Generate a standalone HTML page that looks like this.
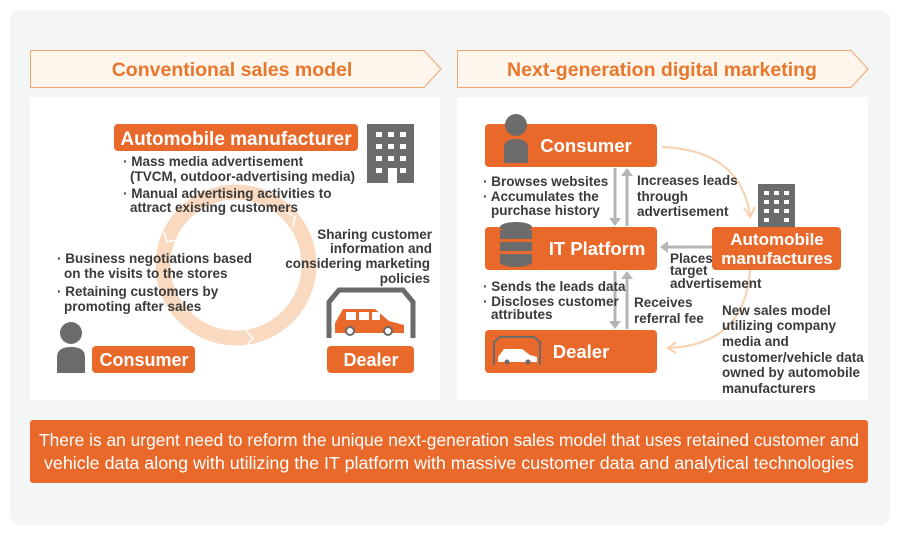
<!DOCTYPE html>
<html><head><meta charset="utf-8"><style>
body{margin:0;background:#fff;}
svg{display:block;font-family:"Liberation Sans",sans-serif;}
.t{font-size:13.5px;fill:#3a3a3a;font-weight:bold;}
.w{fill:#fff;font-weight:bold;}
</style></head><body>
<svg width="900" height="540" viewBox="0 0 900 540">
<rect x="10" y="10" width="880" height="515" rx="10" fill="#f4f5f5"/>
<path d="M30.5 50.5H424L441 69 424 87.5H30.5Z" fill="#fef6ec" stroke="#f2a46e"/>
<text x="232" y="76" text-anchor="middle" font-size="19.5" font-weight="bold" fill="#e8772e">Conventional sales model</text>
<path d="M457.5 50.5H851L868 69 851 87.5H457.5Z" fill="#fef6ec" stroke="#f2a46e"/>
<text x="662" y="76" text-anchor="middle" font-size="19.5" font-weight="bold" fill="#e8772e">Next-generation digital marketing</text>
<rect x="30" y="97" width="410" height="303" fill="#fff"/>
<rect x="457" y="97" width="411" height="303" fill="#fff"/>
<!-- LEFT -->
<circle cx="236" cy="265" r="73" fill="none" stroke="#f9d9bf" stroke-width="15"/>
<path d="M286 212l9 5-2 10" fill="none" stroke="#fff" stroke-width="1.5"/>
<path d="M245 330l8 8-7 8" fill="none" stroke="#fff" stroke-width="1.5"/>
<path d="M164 232l3 10 9-2" fill="none" stroke="#fff" stroke-width="1.5"/>
<rect x="114" y="124" width="244" height="27" rx="4" fill="#e8692a"/>
<text x="236" y="145" text-anchor="middle" class="w" font-size="19">Automobile manufacturer</text>
<rect x="367" y="124" width="47" height="59" fill="#6b6b6b"/>
<g fill="#fff"><rect x="376" y="132" width="6" height="5"/><rect x="388" y="132" width="6" height="5"/><rect x="400" y="132" width="6" height="5"/><rect x="376" y="144" width="6" height="5"/><rect x="388" y="144" width="6" height="5"/><rect x="400" y="144" width="6" height="5"/><rect x="376" y="156" width="6" height="5"/><rect x="388" y="156" width="6" height="5"/><rect x="400" y="156" width="6" height="5"/><rect x="376" y="168" width="6" height="5"/><rect x="388" y="168" width="9" height="15"/><rect x="400" y="168" width="6" height="5"/></g>
<g class="t"><text x="123" y="166">· Mass media advertisement</text><text x="130" y="181">(TVCM, outdoor-advertising media)</text>
<text x="123" y="198">· Manual advertising activities to</text><text x="130" y="212">attract existing customers</text>
<text x="57" y="263">· Business negotiations based</text><text x="64" y="278">on the visits to the stores</text>
<text x="57" y="296">· Retaining customers by</text><text x="64" y="311">promoting after sales</text>
<text x="432" y="239" text-anchor="end">Sharing customer</text><text x="432" y="253" text-anchor="end">information and</text><text x="430" y="268" text-anchor="end">considering marketing</text><text x="430" y="283" text-anchor="end">policies</text></g>
<circle cx="71" cy="333" r="11" fill="#6b6b6b"/><path d="M57 373V357q0-10 14-10q14 0 14 10V373Z" fill="#6b6b6b"/>
<rect x="92" y="346" width="103" height="27" rx="4" fill="#e8692a"/><text x="144" y="366" text-anchor="middle" class="w" font-size="18">Consumer</text>
<path d="M329 338V302l10-12h64l10 12v36" fill="none" stroke="#6b6b6b" stroke-width="5"/>
<path d="M335 333v-10l8-14h32l14 12 15 4v8Z" fill="#e8692a"/>
<g fill="#fff"><rect x="346" y="312" width="10" height="8"/><rect x="359" y="312" width="10" height="8"/><rect x="372" y="312" width="8" height="8"/></g>
<circle cx="350" cy="331" r="4" fill="#fff" stroke="#6b6b6b" stroke-width="2"/><circle cx="388" cy="331" r="4" fill="#fff" stroke="#6b6b6b" stroke-width="2"/>
<rect x="327" y="346" width="87" height="27" rx="4" fill="#e8692a"/><text x="371" y="366" text-anchor="middle" class="w" font-size="18">Dealer</text>
<!-- RIGHT -->
<path d="M662 147Q740 150 750 215" fill="none" stroke="#f9d0ae" stroke-width="2"/><path d="M744 208l6 9 5-10" fill="none" stroke="#f9d0ae" stroke-width="2"/>
<path d="M750 270Q745 345 668 348" fill="none" stroke="#f9d0ae" stroke-width="2"/><path d="M676 342l-8 6 8 5" fill="none" stroke="#f9d0ae" stroke-width="2"/>
<g stroke="#b5b5b5" stroke-width="3" fill="none"><path d="M615 168V220"/><path d="M627 226V174"/><path d="M615 271V323"/><path d="M627 329V277"/><path d="M712 247H665"/></g>
<g fill="#b5b5b5"><path d="M609 218h12l-6 8z"/><path d="M621 176h12l-6-8z"/><path d="M609 321h12l-6 8z"/><path d="M621 279h12l-6-8z"/><path d="M668 241v12l-8-6z"/></g>
<rect x="485" y="124" width="172" height="43" rx="4" fill="#e8692a"/><text x="586" y="152" text-anchor="middle" class="w" font-size="18.5">Consumer</text>
<circle cx="516" cy="125" r="11" fill="#6b6b6b"/><path d="M504 163V148q0-9 12-9q12 0 12 9V163Z" fill="#6b6b6b"/>
<rect x="485" y="227" width="172" height="43" rx="4" fill="#e8692a"/><text x="597" y="255" text-anchor="middle" class="w" font-size="18.5">IT Platform</text>
<g fill="#6b6b6b"><ellipse cx="516" cy="227" rx="16" ry="5"/><rect x="500" y="230" width="32" height="9"/><rect x="500" y="242" width="32" height="9"/><rect x="500" y="254" width="32" height="8"/><ellipse cx="516" cy="262" rx="16" ry="5"/></g>
<rect x="485" y="330" width="172" height="43" rx="4" fill="#e8692a"/><text x="581" y="358" text-anchor="middle" class="w" font-size="18.5">Dealer</text>
<path d="M494 365V342l6-5h34l6 5v23" fill="none" stroke="#6b6b6b" stroke-width="2"/>
<path d="M498 362v-5l6-8h18l8 6 7 2v5Z" fill="#fff"/><circle cx="507" cy="362" r="2.5" fill="#6b6b6b"/><circle cx="528" cy="362" r="2.5" fill="#6b6b6b"/>
<rect x="712" y="227" width="129" height="43" rx="4" fill="#e8692a"/>
<text x="777" y="245" text-anchor="middle" class="w" font-size="17">Automobile</text><text x="777" y="264" text-anchor="middle" class="w" font-size="17">manufactures</text>
<rect x="758" y="184" width="37" height="43" fill="#6b6b6b"/>
<g fill="#fff"><rect x="764" y="191" width="5" height="4"/><rect x="774" y="191" width="5" height="4"/><rect x="784" y="191" width="5" height="4"/><rect x="764" y="200" width="5" height="4"/><rect x="774" y="200" width="5" height="4"/><rect x="784" y="200" width="5" height="4"/><rect x="764" y="209" width="5" height="4"/><rect x="774" y="209" width="5" height="4"/><rect x="784" y="209" width="5" height="4"/><rect x="764" y="218" width="5" height="4"/><rect x="784" y="218" width="5" height="4"/></g>
<g class="t"><text x="483" y="186">· Browses websites</text><text x="483" y="201">· Accumulates the</text><text x="491" y="215">purchase history</text>
<text x="637" y="185">Increases leads</text><text x="637" y="201">through</text><text x="637" y="216">advertisement</text>
<text x="670" y="263">Places</text><text x="670" y="275">target</text><text x="670" y="288">advertisement</text>
<text x="483" y="291">· Sends the leads data</text><text x="483" y="306">· Discloses customer</text><text x="491" y="319">attributes</text>
<text x="634" y="307">Receives</text><text x="634" y="323">referral fee</text>
<text x="722" y="315">New sales model</text><text x="722" y="330">utilizing company</text><text x="722" y="346">media and</text><text x="722" y="362">customer/vehicle data</text><text x="722" y="377">owned by automobile</text><text x="722" y="393">manufacturers</text></g>
<rect x="30" y="420" width="838" height="63" rx="3" fill="#e8692a"/>
<text x="449" y="446" text-anchor="middle" fill="#fff" font-size="17.5" textLength="820" lengthAdjust="spacingAndGlyphs">There is an urgent need to reform the unique next-generation sales model that uses retained customer and</text>
<text x="449" y="469" text-anchor="middle" fill="#fff" font-size="17.5" textLength="810" lengthAdjust="spacingAndGlyphs">vehicle data along with utilizing the IT platform with massive customer data and analytical technologies</text>
</svg>
</body></html>
